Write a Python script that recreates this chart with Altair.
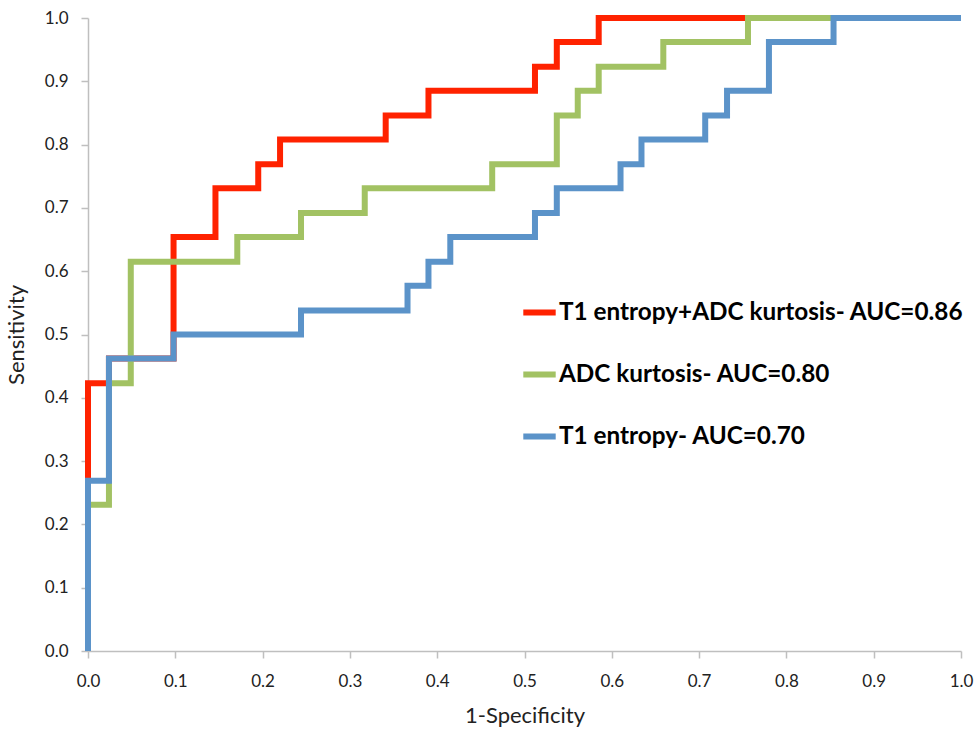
import altair as alt
import pandas as pd

# ROC curves: (1-specificity, sensitivity) at the top of each step
combo_fpr = [0.0, 0.0, 0.024, 0.098, 0.146, 0.195, 0.220, 0.341, 0.390, 0.512, 0.537, 0.585, 1.0]
combo_tpr = [0.0, 0.423, 0.462, 0.654, 0.731, 0.769, 0.808, 0.846, 0.885, 0.923, 0.962, 1.0, 1.0]

adc_fpr = [0.0, 0.0, 0.024, 0.049, 0.171, 0.244, 0.317, 0.463, 0.537, 0.561, 0.585, 0.659, 0.756, 1.0]
adc_tpr = [0.0, 0.231, 0.423, 0.615, 0.654, 0.692, 0.731, 0.769, 0.846, 0.885, 0.923, 0.962, 1.0, 1.0]

t1_fpr = [0.0, 0.0, 0.024, 0.098, 0.244, 0.366, 0.390, 0.415, 0.512, 0.537, 0.610,
          0.634, 0.707, 0.732, 0.780, 0.854, 1.0]
t1_tpr = [0.0, 0.269, 0.462, 0.500, 0.538, 0.577, 0.615, 0.654, 0.692, 0.731, 0.769,
          0.808, 0.846, 0.885, 0.962, 1.0, 1.0]

series_names = [
    "T1 entropy+ADC kurtosis- AUC=0.86",
    "ADC kurtosis- AUC=0.80",
    "T1 entropy- AUC=0.70",
]
series_colors = ["#FF2200", "#A2C263", "#5B93C9"]
axis_ticks = [0.0, 0.1, 0.2, 0.3, 0.4, 0.5, 0.6, 0.7, 0.8, 0.9, 1.0]

frames = []
for name, xs, ys in zip(series_names,
                        [combo_fpr, adc_fpr, t1_fpr],
                        [combo_tpr, adc_tpr, t1_tpr]):
    frames.append(pd.DataFrame({"fpr": xs, "tpr": ys, "model": name,
                                "step": range(len(xs))}))
df = pd.concat(frames, ignore_index=True)

FONT = "Lato"
color_scale = alt.Scale(domain=series_names, range=series_colors)

x_enc = alt.X("fpr:Q", title="1-Specificity",
              scale=alt.Scale(domain=[0, 1], nice=False),
              axis=alt.Axis(values=axis_ticks, format=".1f", labelFlush=False,
                            labelPadding=15, titlePadding=16))
y_enc = alt.Y("tpr:Q", title="Sensitivity",
              scale=alt.Scale(domain=[0, 1], nice=False),
              axis=alt.Axis(values=axis_ticks, format=".1f", labelFlush=False,
                            labelPadding=13, titlePadding=16))


def curve(name):
    return (
        alt.Chart(df)
        .transform_filter(alt.datum.model == name)
        .mark_line(interpolate="step-after", strokeWidth=6, strokeCap="butt")
        .encode(
            x=x_enc,
            y=y_enc,
            order="step:Q",
            color=alt.Color(
                "model:N",
                scale=color_scale,
                sort=series_names,
                legend=alt.Legend(
                    title=None,
                    orient="none",
                    legendX=432,
                    legendY=275,
                    symbolType="stroke",
                    symbolSize=1050,
                    symbolStrokeWidth=6,
                    labelFont=FONT,
                    labelFontWeight="bold",
                    labelFontSize=24.3,
                    labelColor="#000000",
                    labelLimit=600,
                    labelOffset=0,
                    rowPadding=30,
                    padding=0,
                ),
            ),
        )
    )


# red drawn first, blue last (on top)
chart = (
    alt.layer(*[curve(n) for n in series_names])
    .properties(
        width=873,
        height=633,
        padding={"left": 88, "top": 18, "right": 15, "bottom": 80},
        autosize=alt.AutoSizeParams(type="none"),
        background="white",
    )
    .configure_view(stroke=None)
    .configure_axis(
        grid=False,
        domainColor="#BFBFBF",
        domainWidth=1.5,
        tickColor="#BFBFBF",
        tickWidth=1.5,
        tickSize=7,
        labelFont=FONT,
        labelFontSize=17,
        labelColor="#222222",
        titleFont=FONT,
        titleFontSize=22,
        titleFontWeight="normal",
        titleColor="#222222",
    )
)

chart.save("out.html", embed_options={"renderer": "svg", "actions": False})
